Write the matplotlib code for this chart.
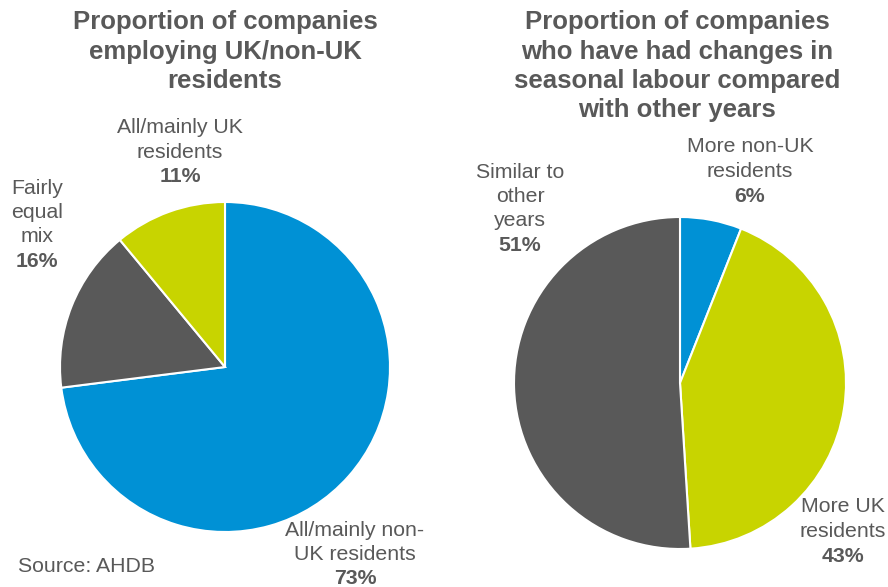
import matplotlib.pyplot as plt

plt.rcParams['font.family'] = ['Liberation Sans', 'DejaVu Sans']

W, H = 888, 587

txt = '#595959'

left_title = ['Proportion of companies', 'employing UK/non-UK', 'residents']
left_labels = [['All/mainly non-', 'UK residents'], ['Fairly', 'equal', 'mix'],
               ['All/mainly UK', 'residents']]
left_values = [73, 16, 11]
left_colors = ['#0091D5', '#595959', '#C8D400']

right_title = ['Proportion of companies', 'who have had changes in',
               'seasonal labour compared', 'with other years']
right_labels = [['More non-UK', 'residents'], ['More UK', 'residents'],
                ['Similar to', 'other', 'years']]
right_values = [6, 43, 51]
right_colors = ['#0091D5', '#C8D400', '#595959']

fig = plt.figure(figsize=(W / 100, H / 100), dpi=100)


def px_axes(cx, cy, r):
    return fig.add_axes([(cx - r) / W, (H - cy - r) / H, 2 * r / W, 2 * r / H])


def lines(x, y0, step, rows, **kw):
    # one text per row so the spacing matches the picture
    for i, (s, bold) in enumerate(rows):
        fig.text(x / W, 1 - (y0 + i * step) / H, s, ha='center', va='center',
                 color=txt, fontweight='bold' if bold else 'normal', **kw)


def label(x, y0, name, pct):
    rows = [(s, False) for s in name] + [(f'{pct}%', True)]
    lines(x, y0, 24.5, rows, fontsize=15.3)


ax1 = px_axes(225, 367, 165)
ax1.pie(left_values, colors=left_colors, startangle=90, counterclock=False,
        wedgeprops=dict(edgecolor='white', linewidth=1.5))
ax1.set_xlim(-1, 1)
ax1.set_ylim(-1, 1)

ax2 = px_axes(680, 383, 166)
ax2.pie(right_values, colors=right_colors, startangle=90, counterclock=False,
        wedgeprops=dict(edgecolor='white', linewidth=1.5))
ax2.set_xlim(-1, 1)
ax2.set_ylim(-1, 1)

lines(225, 22, 29.5, [(s, True) for s in left_title], fontsize=18.5)
lines(677, 22, 29.5, [(s, True) for s in right_title], fontsize=18.5)

label(355, 530, left_labels[0], left_values[0])
label(37, 188, left_labels[1], left_values[1])
label(180, 128, left_labels[2], left_values[2])

label(750, 147, right_labels[0], right_values[0])
label(843, 507, right_labels[1], right_values[1])
label(520, 172, right_labels[2], right_values[2])

fig.text(18 / W, 1 - 566 / H, 'Source: AHDB', ha='left', va='center',
         fontsize=15.3, color=txt)

fig.savefig('out.png', dpi=100)
